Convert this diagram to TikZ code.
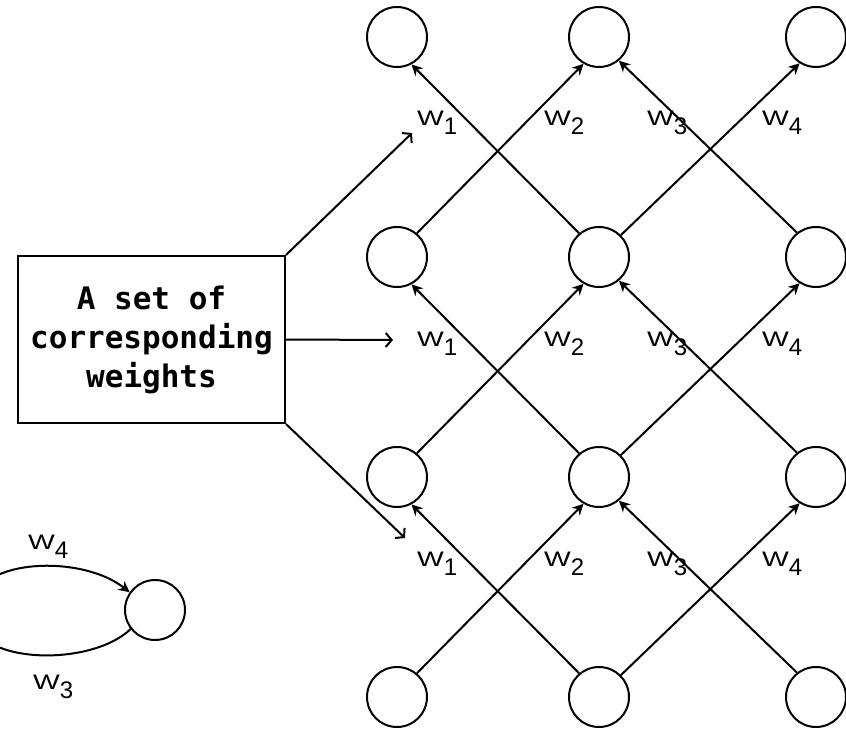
\documentclass[tikz,border=0pt]{standalone}
\usepackage{fontspec}
\setmainfont{Liberation Sans}
\newfontfamily\boxfont{DejaVu Sans Mono}
\usetikzlibrary{arrows.meta}

% weight symbol with a lowered index
\newcommand{\wsub}[1]{\scalebox{1.35}[1]{W}\raisebox{-9pt}{\fontsize{24}{24}\selectfont #1}}

\begin{document}
\begin{tikzpicture}[x=1pt,y=-1pt,line width=2pt,
  unit/.style={circle,draw,minimum size=60pt,inner sep=0pt},
  wire/.style={-{Stealth[length=11pt,width=11pt]}},
  feed/.style={-{Straight Barb[length=6pt,width=14pt]}},
  wlabel/.style={anchor=base west,inner sep=0pt,font=\fontsize{21}{21}\selectfont},
  weightbox/.style={draw,minimum width=267pt,minimum height=167pt,align=center,
    font=\boxfont\bfseries\fontsize{31}{39}\selectfont}]
\useasboundingbox (0,0) rectangle (846,730);

% grid of units
\foreach \r/\y in {1/37,2/257,3/477,4/697} {
  \node[unit] (n\r1) at (397,\y) {};
  \node[unit] (n\r2) at (599,\y) {};
  \node[unit] (n\r3) at (816,\y) {};
}

% crossing connections between neighbouring rows
\foreach \lo/\up in {2/1,3/2,4/3} {
  \draw[wire] (n\lo1.50)  -- (n\up2.-120);
  \draw[wire] (n\lo2.130) -- (n\up1.-62);
  \draw[wire] (n\lo2.45)  -- (n\up3.-122);
  \draw[wire] (n\lo3.128) -- (n\up2.-50);
}

% weight labels
\foreach \b in {126,346,566} {
  \node[wlabel] (wa\b) at (416,\b) {\wsub{1}};
  \node[wlabel] (wb\b) at (543,\b) {\wsub{2}};
  \node[wlabel] (wc\b) at (646,\b) {\wsub{3}};
  \node[wlabel] (wd\b) at (761,\b) {\wsub{4}};
}

% shared weight box
\node[weightbox] (box) at (151.5,339.5) {A set of\\corresponding\\weights};
\coordinate (t1) at (412,133);
\coordinate (t2) at (393,340);
\coordinate (t3) at (405,538);
\draw[feed] (box.north east) -- (t1);
\draw[feed] (box.east) -- (t2);
\draw[feed] (box.south east) -- (t3);

% single unit with its feedback loop
\node[unit] (self) at (155,610) {};
\coordinate (loopfar) at (-30,612);
\begin{scope}
  \clip (0,0) rectangle (846,730);
  \draw[wire] (self.-142) .. controls (90,668) and (-30,665) .. (loopfar)
    .. controls (-30,558) and (80,553) .. (self.145);
\end{scope}
\node[wlabel] (wloopa) at (27,549) {\wsub{4}};
\node[wlabel] (wloopb) at (32,689) {\wsub{3}};
\end{tikzpicture}
\end{document}
